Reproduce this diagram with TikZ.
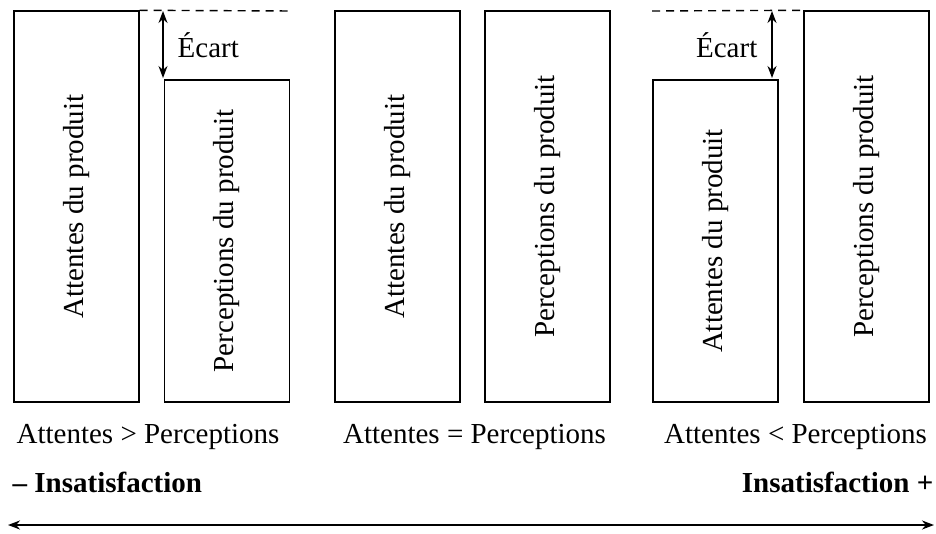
\documentclass[tikz,border=0pt]{standalone}
\usepackage{fontspec}
\setmainfont{Liberation Serif}
\usetikzlibrary{arrows.meta}

\begin{document}
\begin{tikzpicture}[x=0.5pt, y=-0.5pt, line width=0.7pt,
    tallbox/.style={draw, rotate=90, inner sep=0pt, minimum width=195.5pt, minimum height=62.5pt},
    shortbox/.style={tallbox, minimum width=161pt},
    lbl/.style={font=\fontsize{14.5}{17}\selectfont, inner sep=0pt},
    gap/.style={<->, >={Stealth[length=6pt, width=4.5pt]}}]
    \useasboundingbox (0,0) rectangle (936,534);

    % Boxes
    \node[tallbox, lbl] (att1) at (76.5,206.5) {Attentes du produit};
    \node[shortbox, lbl] (per1) at (227,241) {Perceptions du produit};
    \node[tallbox, lbl] (att2) at (397.5,206.5) {Attentes du produit};
    \node[tallbox, lbl] (per2) at (547.5,206.5) {Perceptions du produit};
    \node[shortbox, lbl] (att3) at (715.5,241) {Attentes du produit};
    \node[tallbox, lbl] (per3) at (866.5,206.5) {Perceptions du produit};

    % Gaps
    \coordinate (top1) at (292,11);
    \coordinate (top3) at (652,11);
    \coordinate (a1) at (163,11);
    \coordinate (b1) at (163,78);
    \coordinate (a3) at (772,11);
    \coordinate (b3) at (772,78);
    \draw[dashed, dash pattern=on 4pt off 3pt] (att1.south east) -- (top1);
    \draw[dashed, dash pattern=on 4pt off 3pt] (top3) -- (per3.north east);
    \draw[gap] (a1) -- (b1);
    \draw[gap] (a3) -- (b3);
    \node[lbl, anchor=west] (ec1) at (177,45) {Écart};
    \node[lbl, anchor=east] (ec3) at (758,45) {Écart};

    % Labels
    \node[lbl, anchor=base] (cmp1) at (148,443) {Attentes > Perceptions};
    \node[lbl, anchor=base] (cmp2) at (474.5,443) {Attentes = Perceptions};
    \node[lbl, anchor=base] (cmp3) at (795.5,443) {Attentes < Perceptions};
    \node[lbl, anchor=base west, font=\fontsize{14.5}{17}\selectfont\bfseries] (low) at (12,492) {– Insatisfaction};
    \node[lbl, anchor=base east, font=\fontsize{14.5}{17}\selectfont\bfseries] (high) at (934,492) {Insatisfaction +};

    % Scale arrow
    \coordinate (left) at (8,525);
    \coordinate (right) at (934,525);
    \draw[<->, >={Stealth[length=6pt, width=4.5pt]}, line width=1pt] (left) -- (right);
\end{tikzpicture}
\end{document}
